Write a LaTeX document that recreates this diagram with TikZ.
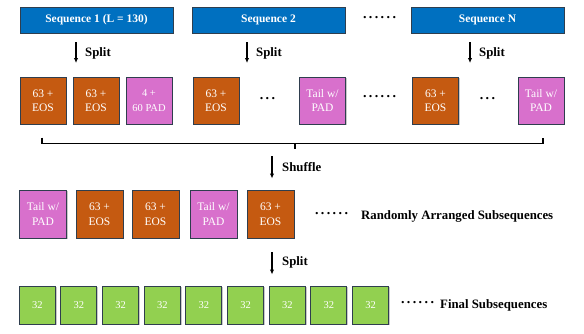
\documentclass[tikz,border=0pt]{standalone}
\usepackage{fontspec}
\setmainfont{Liberation Serif}
\usetikzlibrary{shadows,arrows.meta}
\definecolor{seqblue}{HTML}{0070C0}
\definecolor{eosorange}{HTML}{C55A11}
\definecolor{padpink}{HTML}{D870CC}
\definecolor{chunkgreen}{HTML}{92D050}
\definecolor{edgeline}{HTML}{2F3E4E}
\newcommand\dotrun[1]{\foreach \k in {1,...,#1}{\ifnum\k>1\hspace{2.4pt}\fi.}}
\tikzset{
  box/.style={draw=edgeline, line width=1pt, inner sep=0pt, align=center, text=white,
    drop shadow={shadow xshift=1.2pt, shadow yshift=-1.2pt, opacity=0.3, fill=black!70}},
  seqbox/.style={box, fill=seqblue, minimum width=153pt, minimum height=26pt,
    font=\fontsize{11.5}{13}\selectfont\bfseries},
  eosbox/.style={box, fill=eosorange, minimum width=46pt, minimum height=47pt,
    font=\fontsize{11.5}{14.5}\selectfont},
  padbox/.style={eosbox, fill=padpink},
  chunk/.style={box, fill=chunkgreen, minimum width=36pt, minimum height=38pt,
    font=\fontsize{10.5}{12}\selectfont},
  flow/.style={-{Latex[length=5pt,width=4.5pt]}, line width=1.1pt},
  lbl/.style={anchor=west, inner sep=0pt, font=\fontsize{12.8}{14}\selectfont\bfseries},
  dotsrow/.style={inner sep=0pt, font=\fontsize{14}{16}\selectfont\bfseries},
  bracket/.style={line width=1.2pt},
}
\begin{document}
\begin{tikzpicture}[x=1pt,y=-1pt]
\useasboundingbox (0,0) rectangle (584,333);

% input sequences
\node[seqbox] (seq1) at (96.5,20) {Sequence 1 (L = 130)};
\node[seqbox] (seq2) at (268.5,20) {Sequence 2};
\node[seqbox] (seqN) at (487.5,20) {Sequence N};
\node[dotsrow] (topdots) at (379.5,18) {\dotrun{6}};

% first split
\foreach \n/\x in {1/76, 2/247, N/470}{
  \coordinate (sa\n) at (\x,42);
  \coordinate (sb\n) at (\x,63);
  \draw[flow] (sa\n) -- (sb\n);
  \node[lbl] (split\n) at (\x+9,53) {Split};
}

% subsequences per sequence
\node[eosbox] (a1) at (43,100.5) {63 +\\EOS};
\node[eosbox] (a2) at (96,100.5) {63 +\\EOS};
\node[padbox, font=\fontsize{10.5}{14.5}\selectfont] (a3) at (149,100.5) {4 +\\60 PAD};
\node[eosbox] (b1) at (216,100.5) {63 +\\EOS};
\node[dotsrow] (bdots) at (267.5,99) {\dotrun{3}};
\node[padbox] (b2) at (322.5,100.5) {Tail w/\\PAD};
\node[dotsrow] (middots) at (379.5,97) {\dotrun{6}};
\node[eosbox] (c1) at (435.5,100.5) {63 +\\EOS};
\node[dotsrow] (cdots) at (487.5,99) {\dotrun{3}};
\node[padbox] (c2) at (541,100.5) {Tail w/\\PAD};

% gathering bracket
\draw[bracket] (42,137.5) -- (42,143.5) -- (543,143.5) -- (543,137.5);
\draw[bracket] (295,143.5) -- (295,148.5);

% shuffle
\coordinate (sha) at (272,156);
\coordinate (shb) at (272,178.5);
\draw[flow] (sha) -- (shb);
\node[lbl] (shuffle) at (282,167) {Shuffle};

% shuffled subsequences
\node[padbox, minimum width=47pt, minimum height=48pt] (r1) at (43,214) {Tail w/\\PAD};
\node[eosbox, minimum width=47pt, minimum height=48pt] (r2) at (99.5,214) {63 +\\EOS};
\node[eosbox, minimum width=47pt, minimum height=48pt] (r3) at (155.5,214) {63 +\\EOS};
\node[padbox, minimum width=47pt, minimum height=48pt] (r4) at (213.5,214) {Tail w/\\PAD};
\node[eosbox, minimum width=47pt, minimum height=48pt] (r5) at (270.5,214) {63 +\\EOS};
\node[dotsrow] (rdots) at (331.5,213.5) {\dotrun{6}};
\node[lbl] (rtext) at (361,216) {Randomly Arranged Subsequences};

% second split
\coordinate (fsa) at (272,252);
\coordinate (fsb) at (272,274.5);
\draw[flow] (fsa) -- (fsb);
\node[lbl] (split4) at (282,262) {Split};

% final chunks
\foreach \i in {0,...,8}{
  \node[chunk] (f\i) at (37.3+41.67*\i,305) {32};
}
\node[dotsrow] (fdots) at (417.5,302.5) {\dotrun{6}};
\node[lbl] (ftext) at (440,305) {Final Subsequences};
\end{tikzpicture}
\end{document}
